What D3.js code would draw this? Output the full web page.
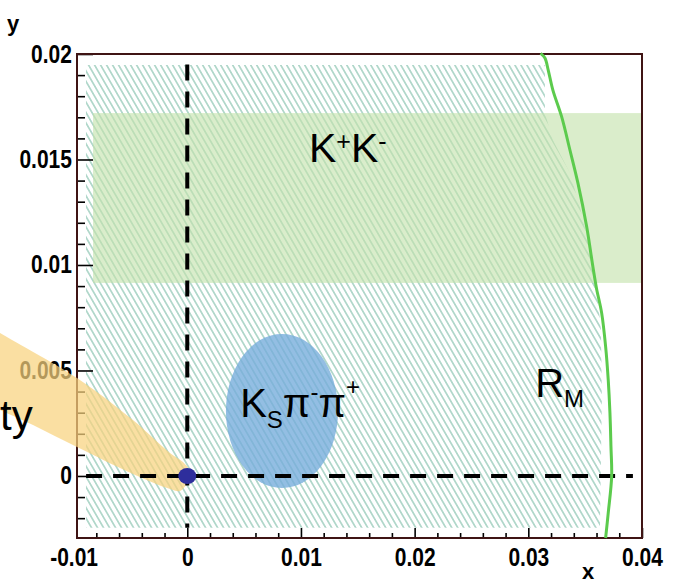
<!DOCTYPE html>
<html>
<head>
<meta charset="utf-8">
<script src="https://cdn.jsdelivr.net/npm/d3@7"></script>
<style>
  body { margin: 0; background: #fff; }
  svg { display: block; }
  .tick-lab text { font-family: "Liberation Sans", Arial, Helvetica, sans-serif; font-weight: bold; font-size: 25px; fill: #000; }
  .lab { font-family: "Liberation Sans", Arial, Helvetica, sans-serif; fill: #000; }
</style>
</head>
<body>
<div id="chart"></div>
<script>
// ---- values ----
const xMajor = [-0.01, 0, 0.01, 0.02, 0.03, 0.04];
const xMajorLabels = ["-0.01", "0", "0.01", "0.02", "0.03", "0.04"];
const yMajor = [0, 0.005, 0.01, 0.015, 0.02];
const yMajorLabels = ["0", "0.005", "0.01", "0.015", "0.02"];

// R_M boundary (green curve)
const rmX = [0.03108, 0.03146, 0.03175, 0.03216, 0.03293, 0.03366, 0.03436, 0.03513, 0.03568, 0.03600,
             0.03645, 0.03680, 0.03703, 0.03718, 0.03727, 0.03733, 0.03703, 0.03680];
const rmY = [0.02003, 0.01981, 0.01924, 0.01829, 0.01703, 0.01545, 0.01389, 0.01182, 0.00992, 0.00889,
             0.00773, 0.00613, 0.00455, 0.00299, 0.00139, -0.00003, -0.00175, -0.00294];

// hatched region
const hatchX = [-0.00891, 0.03146, 0.03146, 0.03216, 0.03366, 0.03454, 0.03524, 0.03568, 0.03612, 0.03639, 0.03647, 0.03630, -0.00891];
const hatchY = [0.01948, 0.01948, 0.01720, 0.01592, 0.01436, 0.01275, 0.01118, 0.00962, 0.00834, 0.00692, 0.00360, -0.00246, -0.00246];

// K+K- band
const kkX = [-0.00829, 0.04];
const kkY = [0.00915, 0.0172];

// KS pi- pi+ ellipse: centre and half-widths
const ksCenter = [0.00833, 0.00308];
const ksRadius = [0.00493, 0.00365];

// orange band running into the origin
const bandX = [-0.01823, -0.01647, -0.0097, -0.00478, -0.00152, -0.00038, 0.00015, -0.00003, -0.00064,
               -0.00152, -0.00478, -0.0097, -0.01357, -0.01647, -0.01823];
const bandY = [0.00735, 0.00678, 0.00464, 0.00265, 0.00109, 0.00066, 0.00028, -0.00033, -0.00071,
               -0.00062, 0.00009, 0.00137, 0.00242, 0.00313, 0.0036];

// dashed cross lines
const vDashY = [0.0195, -0.00246];
const hDashX = [-0.0089, 0.0392];

// ---- chart ----
const W = 673, H = 583;
const svg = d3.select('#chart').append('svg').attr('width', W).attr('height', H);
svg.append('rect').attr('width', W).attr('height', H).attr('fill', '#fff');

const x = d3.scaleLinear().domain([-0.0097, 0.04]).range([77, 642]);
const y = d3.scaleLinear().domain([-0.00294, 0.02]).range([538, 54]);

const defs = svg.append('defs');
const pat = defs.append('pattern').attr('id', 'hatch')
  .attr('patternUnits', 'userSpaceOnUse')
  .attr('width', 5.2).attr('height', 10)
  .attr('patternTransform', 'rotate(-30)');
pat.append('line').attr('x1', 2.6).attr('y1', 0).attr('x2', 2.6).attr('y2', 10)
  .attr('stroke', '#8ec6b3').attr('stroke-width', 1.2);

const poly = d3.line().x(d => x(d[0])).y(d => y(d[1]));

// hatched region
svg.append('path')
  .attr('d', poly.curve(d3.curveLinearClosed)(d3.zip(hatchX, hatchY)))
  .attr('fill', 'url(#hatch)');

// K+K- band
svg.append('rect')
  .attr('x', x(kkX[0])).attr('y', y(kkY[1]))
  .attr('width', x(kkX[1]) - x(kkX[0])).attr('height', y(kkY[0]) - y(kkY[1]))
  .attr('fill', '#c4e2ab').attr('opacity', 0.62);

// KS pi pi ellipse
svg.append('ellipse')
  .attr('cx', x(ksCenter[0])).attr('cy', y(ksCenter[1]))
  .attr('rx', x(ksCenter[0] + ksRadius[0]) - x(ksCenter[0]))
  .attr('ry', y(ksCenter[1]) - y(ksCenter[1] + ksRadius[1]))
  .attr('fill', '#74acdb').attr('opacity', 0.78);

// axes: ticks point inwards
const yMinor = d3.range(-2, 20).filter(i => i % 5 !== 0).map(i => i / 1000);
const xMinor = d3.range(-8, 40, 2).filter(i => i % 10 !== 0).map(i => i / 1000);

const gy = svg.append('g').attr('transform', `translate(${x.range()[0]},0)`);
gy.append('g').call(d3.axisLeft(y).tickValues(yMinor).tickSize(-8).tickFormat(''));
gy.append('g').attr('class', 'tick-lab')
  .call(d3.axisLeft(y).tickValues(yMajor).tickSize(-16).tickPadding(6).tickFormat((d, i) => yMajorLabels[i]));

const gx = svg.append('g').attr('transform', `translate(0,${y.range()[0]})`);
gx.append('g').call(d3.axisBottom(x).tickValues(xMinor).tickSize(-5).tickFormat(''));
gx.append('g').attr('class', 'tick-lab')
  .call(d3.axisBottom(x).tickValues(xMajor).tickSize(-10).tickPadding(10).tickFormat((d, i) => xMajorLabels[i]));

svg.selectAll('.domain').remove();
svg.selectAll('.tick line').attr('stroke', '#000').attr('stroke-width', 1.6);
// condensed bold look of the tick labels
svg.selectAll('.tick-lab text').attr('transform', 'scale(0.84,1)');
// -0.01 lies just left of the frame: keep its label only
gx.selectAll('.tick').filter(d => d < x.domain()[0]).select('line').remove();

// frame
svg.append('rect')
  .attr('x', x.range()[0]).attr('y', y.range()[1])
  .attr('width', x.range()[1] - x.range()[0]).attr('height', y.range()[0] - y.range()[1])
  .attr('fill', 'none').attr('stroke', '#3f1414').attr('stroke-width', 2);

// orange band
svg.append('path')
  .attr('d', poly.curve(d3.curveCatmullRomClosed.alpha(0.5))(d3.zip(bandX, bandY)))
  .attr('fill', '#f8d27e').attr('opacity', 0.72);

// dashed cross
svg.append('line')
  .attr('x1', x(0)).attr('x2', x(0)).attr('y1', y(vDashY[0])).attr('y2', y(vDashY[1]))
  .attr('stroke', '#000').attr('stroke-width', 4).attr('stroke-dasharray', '16,11');
svg.append('line')
  .attr('x1', x(hDashX[0])).attr('x2', x(hDashX[1])).attr('y1', y(0)).attr('y2', y(0))
  .attr('stroke', '#000').attr('stroke-width', 4).attr('stroke-dasharray', '16,11');

// measured point at the origin
svg.append('ellipse').attr('cx', x(0)).attr('cy', y(0)).attr('rx', 9).attr('ry', 8)
  .attr('fill', '#2e2e9c');

// R_M curve
svg.append('path')
  .attr('d', poly.curve(d3.curveCatmullRom)(d3.zip(rmX, rmY)))
  .attr('fill', 'none').attr('stroke', '#5ccb4d').attr('stroke-width', 3);

// ---- labels ----
function label(px, py, parts) {
  const t = svg.append('text').attr('class', 'lab').attr('x', x(px)).attr('y', y(py));
  parts.forEach(p => t.append('tspan').attr('dy', p.dy || 0).attr('font-size', p.size).text(p.t));
  return t;
}
label(0.0107, 0.01488, [
  { t: 'K', size: 41 }, { t: '+', size: 25, dy: -12 },
  { t: 'K', size: 41, dy: 12 }, { t: '-', size: 25, dy: -12 }
]);
label(0.00465, 0.00280, [
  { t: 'K', size: 40 }, { t: 'S', size: 24, dy: 11 },
  { t: 'π', size: 40, dy: -11 }, { t: '-', size: 24, dy: -17 },
  { t: 'π', size: 40, dy: 17 }, { t: '+', size: 24, dy: -22 }
]);
label(0.0306, 0.00374, [{ t: 'R', size: 40 }, { t: 'M', size: 24, dy: 10 }]);

// word at the left edge, only its end fits on the page
svg.append('text').attr('class', 'lab').attr('x', 0).attr('y', 430)
  .attr('font-size', 42).text('ty');

// axis titles
svg.append('text').attr('class', 'lab').attr('x', 13).attr('y', 31)
  .attr('text-anchor', 'middle').attr('font-weight', 'bold').attr('font-size', 22).text('y');
svg.append('text').attr('class', 'lab').attr('x', 588).attr('y', 579)
  .attr('text-anchor', 'middle').attr('font-weight', 'bold').attr('font-size', 22).text('x');
</script>
</body>
</html>
